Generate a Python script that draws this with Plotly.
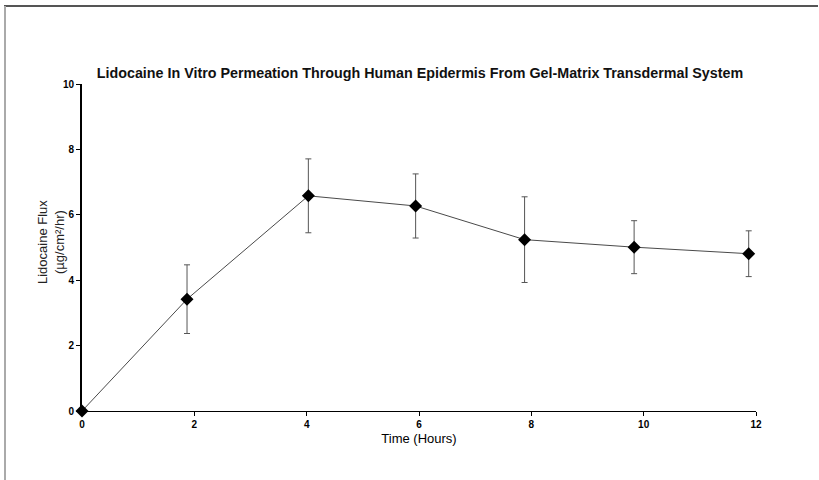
import plotly.graph_objects as go

# Sampling times (hours), mean flux and standard deviation
time_hr = [0, 1.87, 4.03, 5.94, 7.88, 9.83, 11.87]
flux = [0, 3.42, 6.58, 6.27, 5.24, 5.01, 4.81]
flux_sd = [0, 1.05, 1.13, 0.98, 1.31, 0.81, 0.70]

x_ticks = [0, 2, 4, 6, 8, 10, 12]
y_ticks = [0, 2, 4, 6, 8, 10]

W, H = 819, 480
L, R, T, B = 82, 63, 84, 69
pw, ph = W - L - R, H - T - B

fig = go.Figure()
fig.add_trace(go.Scatter(
    x=time_hr, y=flux,
    mode="lines+markers",
    line=dict(color="#4a4a4a", width=1),
    marker=dict(symbol="diamond", size=10, color="black"),
    error_y=dict(type="data", array=flux_sd, visible=True,
                 color="#555555", thickness=1, width=3),
    showlegend=False,
    cliponaxis=False,
))

tick_font = dict(family="Liberation Sans", size=10, color="black")

fig.update_layout(
    width=W, height=H,
    margin=dict(l=L, r=R, t=T, b=B),
    paper_bgcolor="white", plot_bgcolor="white",
    title=dict(
        text="<b>Lidocaine In Vitro Permeation Through Human Epidermis From Gel-Matrix Transdermal System</b>",
        font=dict(family="Liberation Sans", size=14.3, color="#111111"),
        x=420 / W, xanchor="center", y=1 - 73 / H, yanchor="middle",
    ),
    xaxis=dict(
        range=[0, 12], tickvals=x_ticks, ticktext=[f"<b>{v}</b>" for v in x_ticks],
        showgrid=False, zeroline=False, showline=True, linecolor="black", linewidth=1,
        ticks="outside", ticklen=4, tickcolor="black", tickfont=tick_font,
        title=dict(text="Time (Hours)", font=dict(family="Liberation Sans", size=13, color="black"),
                   standoff=4),
    ),
    yaxis=dict(
        range=[0, 10], tickvals=y_ticks, ticktext=[f"<b>{v}</b>" for v in y_ticks],
        showgrid=False, zeroline=False, showline=True, linecolor="black", linewidth=2,
        ticks="outside", ticklen=4, tickcolor="black", tickfont=tick_font,
    ),
    annotations=[
        dict(text="Lidocaine Flux<br>(µg/cm²/hr)", textangle=-90,
             xref="paper", yref="paper",
             x=(51 - L) / pw, y=1 - (242 - T) / ph,
             xanchor="center", yanchor="middle", showarrow=False,
             font=dict(family="Liberation Sans", size=13, color="#222222")),
    ],
    shapes=[
        # outer frame: top and left edges
        dict(type="line", xref="paper", yref="paper",
             x0=(4 - L) / pw, x1=(W - L - 1) / pw,
             y0=1 + (T - 6) / ph, y1=1 + (T - 6) / ph,
             line=dict(color="#555555", width=2)),
        dict(type="line", xref="paper", yref="paper",
             x0=(5 - L) / pw, x1=(5 - L) / pw,
             y0=1 + (T - 6) / ph, y1=-B / ph,
             line=dict(color="#aaaaaa", width=2)),
    ],
)

fig.write_html("out.html", config={"displayModeBar": False})
